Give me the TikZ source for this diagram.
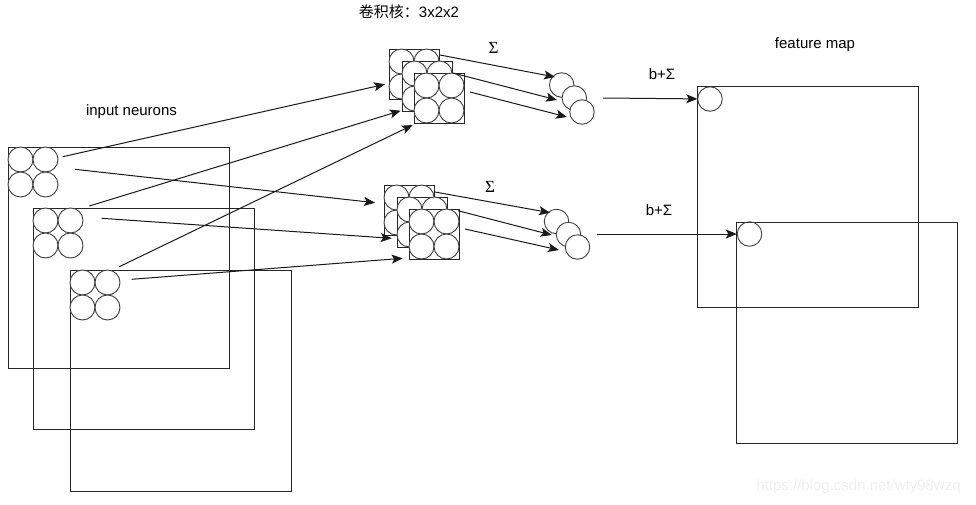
\documentclass[tikz,border=0pt]{standalone}
\usepackage{fontspec}
\setmainfont{Liberation Sans}
\newfontfamily\cjkfont{Noto Sans CJK SC}
\newfontfamily\sigmafont{Liberation Serif}
\usetikzlibrary{arrows.meta,calc}

\begin{document}
\begin{tikzpicture}[x=1pt, y=-1pt, font=\fontsize{15}{18}\selectfont,
    layer/.style={draw=black!85, line width=1.2pt, minimum width=221, minimum height=221, anchor=north west, inner sep=0},
    kernel/.style={draw=black!85, fill=white, line width=1.2pt, minimum size=50, anchor=north west, inner sep=0},
    neuron/.style={draw=black!75, fill=white, circle, minimum size=25, inner sep=0, line width=0.9pt},
    lbl/.style={inner sep=0},
    arr/.style={-{Stealth[length=11pt, width=9pt, inset=2.5pt]}, draw=black!90, line width=1pt}]
    \useasboundingbox (0,0) rectangle (976,504);

    \foreach \l/\x/\y in {1/8/147, 2/33/208, 3/70/270} {
        \node[layer] (in\l) at (\x,\y) {};
        \foreach \n/\i/\j in {1/12.5/12.5, 2/37.5/12.5, 3/12.5/37.5, 4/37.5/37.5}
            \node[neuron] (in\l\n) at ($(in\l.north west)+(\i,\j)$) {};
    }

    \foreach \g/\k/\x/\y in {a/1/389/49, a/2/402/61, a/3/414/73, b/1/384/185, b/2/397/197, b/3/409/209} {
        \node[kernel] (k\g\k) at (\x,\y) {};
        \foreach \n/\i/\j in {1/12.5/12.5, 2/37.5/12.5, 3/12.5/37.5, 4/37.5/37.5}
            \node[neuron] (k\g\k\n) at ($(k\g\k.north west)+(\i,\j)$) {};
    }

    \foreach \g/\k/\x/\y in {a/1/561.7/85, a/2/574.3/98, a/3/582/112, b/1/556.5/221.5, b/2/568.5/234.5, b/3/577.5/247}
        \node[neuron, minimum size=24.5] (o\g\k) at (\x,\y) {};

    \node[layer] (fa) at (697,86) {};
    \node[layer] (fb) at (736,222) {};
    \node[neuron, fill=none, minimum size=24.5] (fa1) at (710,99) {};
    \node[neuron, fill=none, minimum size=24.5] (fb1) at (749.5,234) {};

    \foreach \c/\sx/\sy/\ex/\ey in {
        ia1/62.7/156.7/385/84.3, ia2/89.3/206/400.7/110.7, ia3/119.3/266.7/412.7/125,
        ib1/75/169.3/375/202.7, ib2/101.7/218.3/391.7/238.3, ib3/131.7/279.3/402.7/258.3,
        oa1/440/55/555/77, oa2/453/73/557/100, oa3/470/92/567/117,
        ob1/435/192/550/212.7, ob2/458/210.7/551.7/235, ob3/465/229/559/250} {
        \coordinate (\c s) at (\sx,\sy);
        \coordinate (\c e) at (\ex,\ey);
        \draw[arr] (\c s) -- (\c e);
    }

    \coordinate (pa) at (603,98);
    \coordinate (pb) at (597,234);
    \draw[arr] (pa) -- (fa1);
    \draw[arr] (pb) -- (fb1);

    \node[lbl] (kt) at (409,12) {{\cjkfont 卷积核：}3x2x2};
    \node[lbl] (sa) at (493.5,48) {\sigmafont\fontsize{17}{19}\selectfont Σ};
    \node[lbl] (sb) at (490,187) {\sigmafont\fontsize{17}{19}\selectfont Σ};
    \node[lbl] (ba) at (662,74) {b+Σ};
    \node[lbl] (bb) at (659,210) {b+Σ};
    \node[lbl] (fm) at (815,45) {feature map};
    \node[lbl] (inp) at (131.5,112) {input neurons};
    \node[lbl, text=black!6] (wm) at (858.5,487) {https://blog.csdn.net/wty98wzq};
\end{tikzpicture}
\end{document}
